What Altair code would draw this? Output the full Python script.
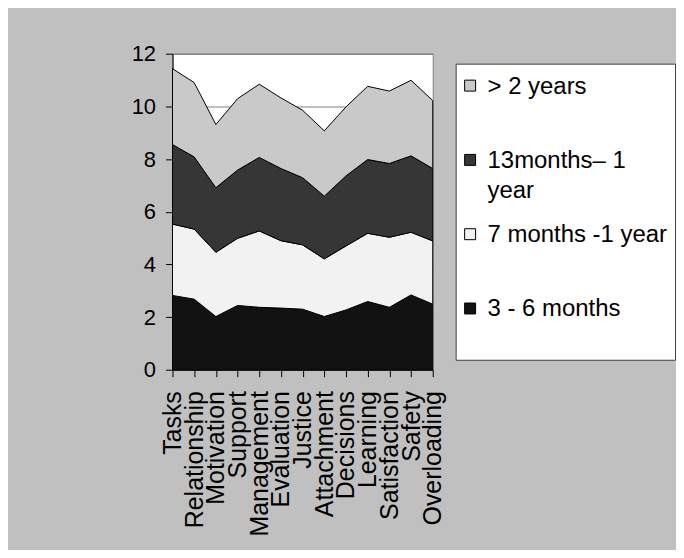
import altair as alt
import pandas as pd

categories = ["Tasks", "Relationship", "Motivation", "Support", "Management",
              "Evaluation", "Justice", "Attachment", "Decisions", "Learning",
              "Satisfaction", "Safety", "Overloading"]

series_names = ["3 - 6 months", "7 months -1 year", "13months\u2013 1 year", "> 2 years"]
s_3_6 = [2.82, 2.68, 2.02, 2.44, 2.37, 2.34, 2.30, 2.02, 2.27, 2.59, 2.37, 2.84, 2.49]
s_7_12 = [2.71, 2.66, 2.44, 2.55, 2.90, 2.56, 2.44, 2.19, 2.43, 2.59, 2.66, 2.38, 2.40]
s_13 = [3.02, 2.74, 2.45, 2.59, 2.79, 2.74, 2.55, 2.38, 2.66, 2.80, 2.80, 2.90, 2.75]
s_2y = [2.88, 2.82, 2.40, 2.71, 2.78, 2.68, 2.56, 2.48, 2.62, 2.78, 2.75, 2.87, 2.58]

legend_order = ["> 2 years", "13months\u2013 1 year", "7 months -1 year", "3 - 6 months"]
legend_text = ["> 2 years", "13months\u2013 1\nyear", "7 months -1 year", "3 - 6 months"]
fills = ["#c9c9c9", "#363636", "#f2f2f2", "#121212"]

rows = []
for k, (name, vals) in enumerate(zip(series_names, [s_3_6, s_7_12, s_13, s_2y])):
    for c, v in zip(categories, vals):
        rows.append({"cat": c, "series": name, "value": v, "k": k})
df = pd.DataFrame(rows)

leg_df = pd.DataFrame({"series": legend_order, "text": legend_text})

FONT = "Liberation Sans"
color_scale = alt.Scale(domain=legend_order, range=fills)

area = alt.Chart(df).mark_area(stroke="black", strokeWidth=1, opacity=1, interpolate="linear").encode(
    x=alt.X("cat:N", sort=categories, scale=alt.Scale(type="point", padding=0),
            axis=alt.Axis(title=None, labelAngle=-90, labelFontSize=25, labelFont=FONT,
                          labelColor="black", domainColor="black", tickColor="black",
                          tickSize=7, labelPadding=14, grid=False)),
    y=alt.Y("value:Q", stack="zero", scale=alt.Scale(domain=[0, 12], nice=False),
            axis=alt.Axis(title=None, values=[0, 2, 4, 6, 8, 10, 12], grid=True,
                          gridColor="#808080", gridOpacity=1, labelFontSize=22, labelFont=FONT,
                          labelColor="black", domainColor="black", tickColor="black",
                          tickSize=7, labelPadding=10)),
    color=alt.Color("series:N", scale=color_scale, legend=None),
    order=alt.Order("k:Q", sort="ascending"),
).properties(width=261, height=317, view=alt.ViewBackground(fill="white", stroke="#808080"))

ypos = alt.Y("series:N", sort=legend_order,
             scale=alt.Scale(type="point", padding=0.493, align=0.3), axis=None)

sym = alt.Chart(leg_df).mark_square(size=121, stroke="black", strokeWidth=1, opacity=1, filled=True).encode(
    x=alt.value(14.5), y=ypos,
    color=alt.Color("series:N", scale=color_scale, legend=None),
)
txt = alt.Chart(leg_df).mark_text(align="left", baseline="alphabetic", dy=8, fontSize=24,
                                  font=FONT, color="black", lineBreak="\n", lineHeight=30).encode(
    x=alt.value(32), y=ypos, text="text:N",
)
legend = alt.layer(sym, txt).properties(
    width=220, height=297,
    view=alt.ViewBackground(fill="white", stroke="#404040"),
)

chart = alt.hconcat(area, legend, spacing=23, bounds="flush", center=True).configure(
    background="#c0c0c0",
    padding={"left": 123, "top": 33, "right": 0, "bottom": 12},
).configure_view(strokeWidth=1)

chart.save("out.html", embed_options={"renderer": "svg", "actions": False})
